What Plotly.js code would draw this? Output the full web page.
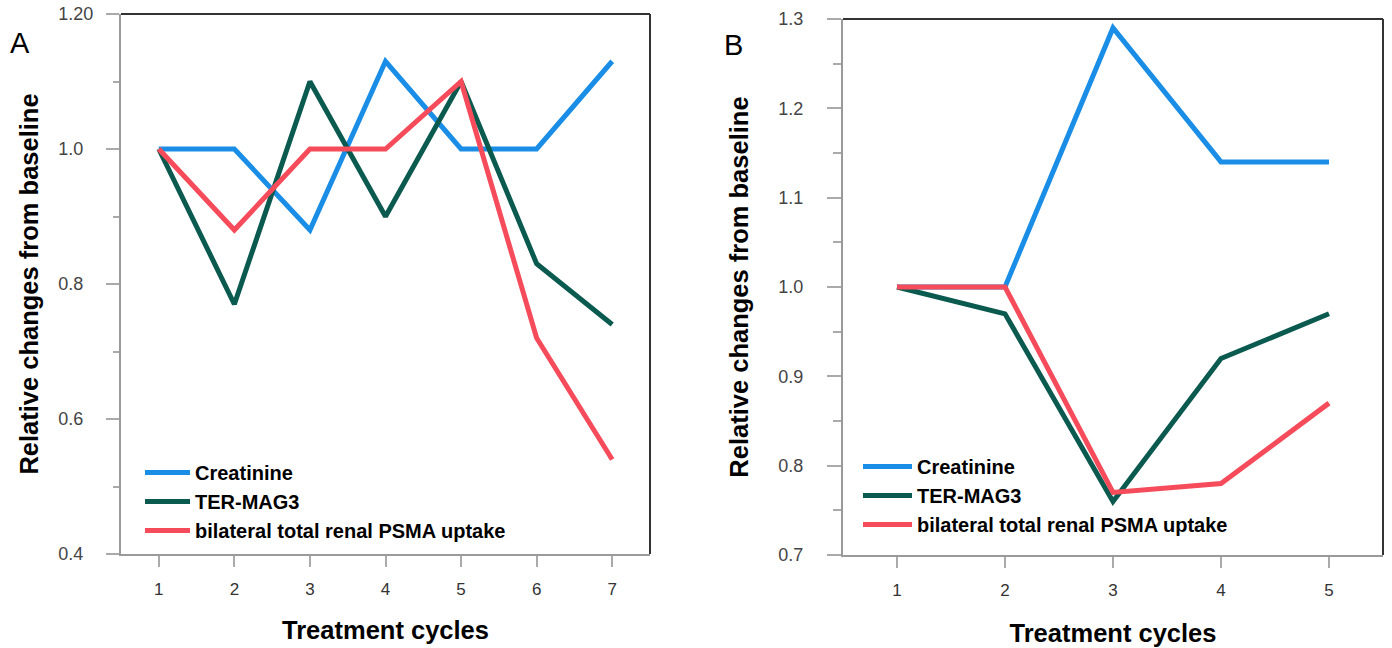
<!DOCTYPE html>
<html>
<head>
<meta charset="utf-8">
<script src="https://cdn.plot.ly/plotly-3.0.1.min.js"></script>
<style>html,body{margin:0;padding:0;background:#fff;}#chart{width:1392px;height:648px;}</style>
</head>
<body>
<div id="chart"></div>
<script>
// Panel A data
const cyclesA = [1, 2, 3, 4, 5, 6, 7];
const creatinineA = [1.0, 1.0, 0.88, 1.13, 1.0, 1.0, 1.13];
const termag3A = [1.0, 0.77, 1.10, 0.90, 1.10, 0.83, 0.74];
const psmaA = [1.0, 0.88, 1.0, 1.0, 1.10, 0.72, 0.54];
// Panel B data
const cyclesB = [1, 2, 3, 4, 5];
const creatinineB = [1.0, 1.0, 1.29, 1.14, 1.14];
const termag3B = [1.0, 0.97, 0.76, 0.92, 0.97];
const psmaB = [1.0, 1.0, 0.77, 0.78, 0.87];

const seriesNames = ['Creatinine', 'TER-MAG3', 'bilateral total renal PSMA uptake'];
const yTickValsA = [0.4, 0.6, 0.8, 1.0, 1.2];
const yTickTextA = ['0.4', '0.6', '0.8', '1.0', '1.20'];
const yMinorA = [0.5, 0.7, 0.9, 1.1];
const yTickValsB = [0.7, 0.8, 0.9, 1.0, 1.1, 1.2, 1.3];
const yTickTextB = ['0.7', '0.8', '0.9', '1.0', '1.1', '1.2', '1.3'];
const yMinorB = [0.75, 0.85, 0.95, 1.05, 1.15, 1.25];

const colors = ['#1a8ee6', '#0b5a4f', '#f54b5a'];
const FONT = 'Liberation Sans, Arial, Helvetica, sans-serif';

// labels in the reference are left-aligned: pad the short ones with two no-break spaces (one digit width)
const NB = '\u00a0\u00a0';
const padLabels = labels => {
  const n = Math.max(...labels.map(s => s.length));
  return labels.map(s => s.length < n ? s + NB : s);
};

function mk(x, y, i, xa, ya, leg) {
  return {x: x, y: y, type: 'scatter', mode: 'lines', name: seriesNames[i],
    xaxis: xa, yaxis: ya, legend: leg,
    line: {color: colors[i], width: 5}, hoverinfo: 'x+y'};
}

const data = [
  mk(cyclesA, creatinineA, 0, 'x', 'y', 'legend'),
  mk(cyclesA, termag3A, 1, 'x', 'y', 'legend'),
  mk(cyclesA, psmaA, 2, 'x', 'y', 'legend'),
  mk(cyclesB, creatinineB, 0, 'x2', 'y2', 'legend2'),
  mk(cyclesB, termag3B, 1, 'x2', 'y2', 'legend2'),
  mk(cyclesB, psmaB, 2, 'x2', 'y2', 'legend2')
];

const W = 1392, H = 648;
function xd(a, b) { return [a / W, b / W]; }
function yd(top, bottom) { return [(H - bottom) / H, (H - top) / H]; }

const axisCommon = {
  showline: true, linecolor: '#9a9a9a', linewidth: 2,
  ticks: 'outside', tickcolor: '#aaaaaa', tickwidth: 2,
  showgrid: false, zeroline: false,
  tickfont: {family: FONT, size: 18, color: '#444'}
};
const titleFont = {family: FONT, size: 25.5, color: '#000', weight: 'bold'};
const legFont = {family: FONT, size: 20, color: '#000', weight: 'bold'};
const minorCommon = {tickmode: 'array', ticks: 'outside', tickwidth: 2, tickcolor: '#aaaaaa', showgrid: false};

const layout = {
  width: W, height: H,
  margin: {l: 0, r: 0, t: 0, b: 0},
  paper_bgcolor: '#fff', plot_bgcolor: '#fff',
  font: {family: FONT},
  xaxis: Object.assign({}, axisCommon, {
    domain: xd(121, 650), range: [0.5, 7.5], anchor: 'y',
    tickmode: 'array', tickvals: cyclesA, ticklen: 11, ticklabelstandoff: 8,
    tickfont: {family: FONT, size: 17, color: '#333'},
    title: {text: 'Treatment cycles', font: titleFont, standoff: 23}
  }),
  yaxis: Object.assign({}, axisCommon, {
    domain: yd(14, 554), range: [0.4, 1.2], anchor: 'x',
    tickmode: 'array', tickvals: yTickValsA, ticktext: padLabels(yTickTextA), ticklen: 13, ticklabelstandoff: 9,
    minor: Object.assign({}, minorCommon, {tickvals: yMinorA, ticklen: 6}),
    title: {text: 'Relative changes from baseline', font: titleFont, standoff: 12}
  }),
  xaxis2: Object.assign({}, axisCommon, {
    domain: xd(843, 1383), range: [0.5, 5.5], anchor: 'y2',
    tickmode: 'array', tickvals: cyclesB, ticklen: 11, ticklabelstandoff: 8,
    tickfont: {family: FONT, size: 17, color: '#333'},
    title: {text: 'Treatment cycles', font: titleFont, standoff: 25}
  }),
  yaxis2: Object.assign({}, axisCommon, {
    domain: yd(19, 555), range: [0.7, 1.3], anchor: 'x2',
    tickmode: 'array', tickvals: yTickValsB, ticktext: yTickTextB, ticklen: 14, ticklabelstandoff: 20,
    minor: Object.assign({}, minorCommon, {tickvals: yMinorB, ticklen: 8}),
    title: {text: 'Relative changes from baseline', font: titleFont, standoff: 22}
  }),
  legend: {x: 140 / W, y: (H - 453) / H, xanchor: 'left', yanchor: 'top',
    bgcolor: 'rgba(0,0,0,0)', borderwidth: 0, itemwidth: 45, font: legFont},
  legend2: {x: 858 / W, y: (H - 447) / H, xanchor: 'left', yanchor: 'top',
    bgcolor: 'rgba(0,0,0,0)', borderwidth: 0, itemwidth: 49, font: legFont},
  shapes: [
    {type: 'line', xref: 'x domain', yref: 'y domain', x0: 0, x1: 1, y0: 1, y1: 1, line: {color: '#333', width: 2}},
    {type: 'line', xref: 'x domain', yref: 'y domain', x0: 1, x1: 1, y0: 0, y1: 1, line: {color: '#333', width: 2}},
    {type: 'line', xref: 'x2 domain', yref: 'y2 domain', x0: 0, x1: 1, y0: 1, y1: 1, line: {color: '#333', width: 2}},
    {type: 'line', xref: 'x2 domain', yref: 'y2 domain', x0: 1, x1: 1, y0: 0, y1: 1, line: {color: '#333', width: 2}}
  ],
  annotations: [
    {text: 'A', xref: 'paper', yref: 'paper', x: 20 / W, y: (H - 43) / H, xanchor: 'center', yanchor: 'middle', showarrow: false, font: {family: FONT, size: 29, color: '#000'}},
    {text: 'B', xref: 'paper', yref: 'paper', x: 733 / W, y: (H - 45) / H, xanchor: 'center', yanchor: 'middle', showarrow: false, font: {family: FONT, size: 29, color: '#000'}}
  ]
};

Plotly.newPlot('chart', data, layout, {displayModeBar: false, staticPlot: true});
</script>
</body>
</html>
